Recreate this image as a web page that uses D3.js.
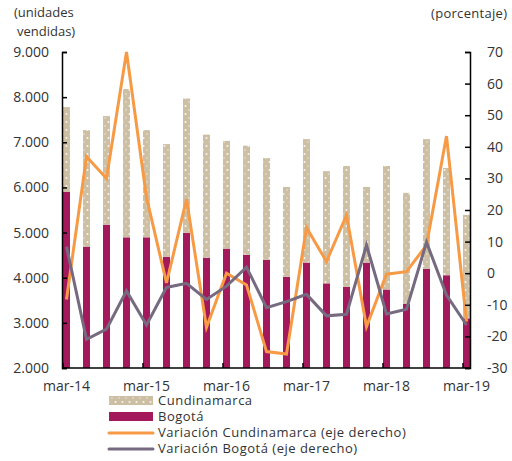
<!DOCTYPE html>
<html>
<head>
<meta charset="utf-8">
<script src="https://cdn.jsdelivr.net/npm/d3@7"></script>
<style>
  body { margin: 0; background: #fff; }
  svg text { font-family: "Open Sans", sans-serif; fill: #333; }
</style>
</head>
<body>
<script>
// trimestres mar-14 .. mar-19
const quarters = ["mar-14","jun-14","sep-14","dic-14","mar-15","jun-15","sep-15","dic-15",
  "mar-16","jun-16","sep-16","dic-16","mar-17","jun-17","sep-17","dic-17",
  "mar-18","jun-18","sep-18","dic-18","mar-19"];
const bogota = [5900,4690,5175,4895,4895,4465,4995,4445,4645,4505,4395,4020,4335,3875,3800,4335,3740,3420,4200,4055,3100];
const cundinamarca = [1880,2580,2405,3285,2375,2495,2975,2725,2385,2420,2255,1990,2735,2485,2675,1675,2735,2460,2870,2375,2290];
const varCundinamarca = [-8.3,36.9,30,70,24,-3.1,23.4,-17.1,0,-3.7,-24.8,-25.6,14.4,3.7,18.4,-16.9,-0.3,0.5,8.9,43.4,-15.3];
const varBogota = [8.4,-20.9,-17.7,-5.6,-16.4,-4.5,-3.2,-8.3,-4.1,1.9,-10.9,-9.0,-6.7,-13.5,-13.0,8.9,-12.9,-11.4,9.8,-6.9,-16.4];
const leftTicks = [2000,3000,4000,5000,6000,7000,8000,9000];
const rightTicks = [-30,-20,-10,0,10,20,30,40,50,60,70];
const xLabels = ["mar-14","mar-15","mar-16","mar-17","mar-18","mar-19"];

const colCund = "#cdbfa3", colBog = "#a3195b", colVarC = "#f79a46", colVarB = "#756a80";

const W = 512, H = 461;
const mLeft = 62, mRight = 470, mTop = 52, mBottom = 368;

const svg = d3.select("body").append("svg")
  .attr("width", W).attr("height", H);

const defs = svg.append("defs");
const pat = defs.append("pattern")
  .attr("id", "dots").attr("patternUnits", "userSpaceOnUse")
  .attr("width", 7).attr("height", 8);
pat.append("rect").attr("width", 7).attr("height", 8).attr("fill", colCund);
pat.append("circle").attr("cx", 3.5).attr("cy", 2).attr("r", 1).attr("fill", "#fff").attr("opacity", 0.85);
pat.append("circle").attr("cx", 0).attr("cy", 6).attr("r", 0.8).attr("fill", "#fff").attr("opacity", 0.6);
pat.append("circle").attr("cx", 7).attr("cy", 6).attr("r", 0.8).attr("fill", "#fff").attr("opacity", 0.6);

const x = d3.scaleLinear().domain([0, quarters.length - 1]).range([66.5, 466.5]);
const y = d3.scaleLinear().domain([2000, 9000]).range([mBottom, mTop]);
const y2 = d3.scaleLinear().domain([-30, 70]).range([mBottom, mTop]);
const bw = 7;

// barras apiladas
const g = svg.append("g");
g.selectAll(".bog").data(bogota).enter().append("rect")
  .attr("x", (d, i) => x(i) - bw / 2)
  .attr("y", d => y(d))
  .attr("width", bw)
  .attr("height", d => y(2000) - y(d))
  .attr("fill", colBog);
g.selectAll(".cund").data(cundinamarca).enter().append("rect")
  .attr("x", (d, i) => x(i) - bw / 2)
  .attr("y", (d, i) => y(d + bogota[i]))
  .attr("width", bw)
  .attr("height", (d, i) => y(bogota[i]) - y(d + bogota[i]))
  .attr("fill", "url(#dots)");

// lineas
const line = d3.line().x((d, i) => x(i)).y(d => y2(d));
svg.append("path").datum(varCundinamarca)
  .attr("d", line).attr("fill", "none")
  .attr("stroke", colVarC).attr("stroke-width", 3).attr("stroke-linejoin", "miter");
svg.append("path").datum(varBogota)
  .attr("d", line).attr("fill", "none")
  .attr("stroke", colVarB).attr("stroke-width", 3).attr("stroke-linejoin", "miter");

// ejes
const fmt = d => d3.format(",")(d).replace(",", ".");
const yAxis = svg.append("g").attr("transform", `translate(${mLeft},0)`)
  .call(d3.axisLeft(y).tickValues(leftTicks).tickSize(-5).tickPadding(13).tickFormat(fmt));
const y2Axis = svg.append("g").attr("transform", `translate(${mRight},0)`)
  .call(d3.axisRight(y2).tickValues(rightTicks).tickSize(-5).tickPadding(17).tickFormat(d => d));
y2Axis.selectAll("text").attr("text-anchor", "start");

const xTickIdx = [0, 4, 8, 12, 16, 20];
const xAxis = svg.append("g").attr("transform", `translate(0,${mBottom})`);
xAxis.append("line").attr("x1", mLeft).attr("x2", mRight).attr("stroke", "#000").attr("stroke-width", 1.5);
xAxis.selectAll(".tk").data(xTickIdx).enter().append("line")
  .attr("x1", d => x(d) - 3.5).attr("x2", d => x(d) - 3.5)
  .attr("y1", 0).attr("y2", -5).attr("stroke", "#000").attr("stroke-width", 1.5);
xAxis.selectAll(".lb").data(xTickIdx).enter().append("text")
  .attr("x", d => x(d)).attr("y", 23).attr("text-anchor", "middle")
  .style("font-size", "14px")
  .text((d, i) => xLabels[i]);

[yAxis, y2Axis].forEach(a => {
  a.select(".domain").attr("stroke", "#000").attr("stroke-width", 1.5);
  a.selectAll(".tick line").attr("stroke", "#000").attr("stroke-width", 1.5);
  a.selectAll("text").style("font-size", "14px").attr("fill", "#333");
});

// titulos de ejes
svg.append("text").attr("x", 14).attr("y", 17).style("font-size", "13px").text("(unidades");
svg.append("text").attr("x", 17).attr("y", 36).style("font-size", "13px").text("vendidas)");
svg.append("text").attr("x", 431).attr("y", 18).style("font-size", "13px")
  .style("letter-spacing", "0.3px").text("(porcentaje)");

// leyenda
const lg = svg.append("g");
lg.append("rect").attr("x", 109).attr("y", 396).attr("width", 44).attr("height", 9).attr("fill", "url(#dots)");
lg.append("rect").attr("x", 109).attr("y", 412).attr("width", 44).attr("height", 9).attr("fill", colBog);
lg.append("line").attr("x1", 109).attr("x2", 153).attr("y1", 433).attr("y2", 433)
  .attr("stroke", colVarC).attr("stroke-width", 3).attr("stroke-linecap", "round");
lg.append("line").attr("x1", 109).attr("x2", 153).attr("y1", 449).attr("y2", 449)
  .attr("stroke", colVarB).attr("stroke-width", 3).attr("stroke-linecap", "round");
const legendNames = ["Cundinamarca", "Bogotá", "Variación Cundinamarca (eje derecho)", "Variación Bogotá (eje derecho)"];
lg.selectAll(".lt").data(legendNames).enter().append("text")
  .attr("x", 158).attr("y", (d, i) => 405 + i * 16)
  .style("font-size", "13px")
  .style("letter-spacing", "0.5px")
  .text(d => d);
</script>
</body>
</html>
